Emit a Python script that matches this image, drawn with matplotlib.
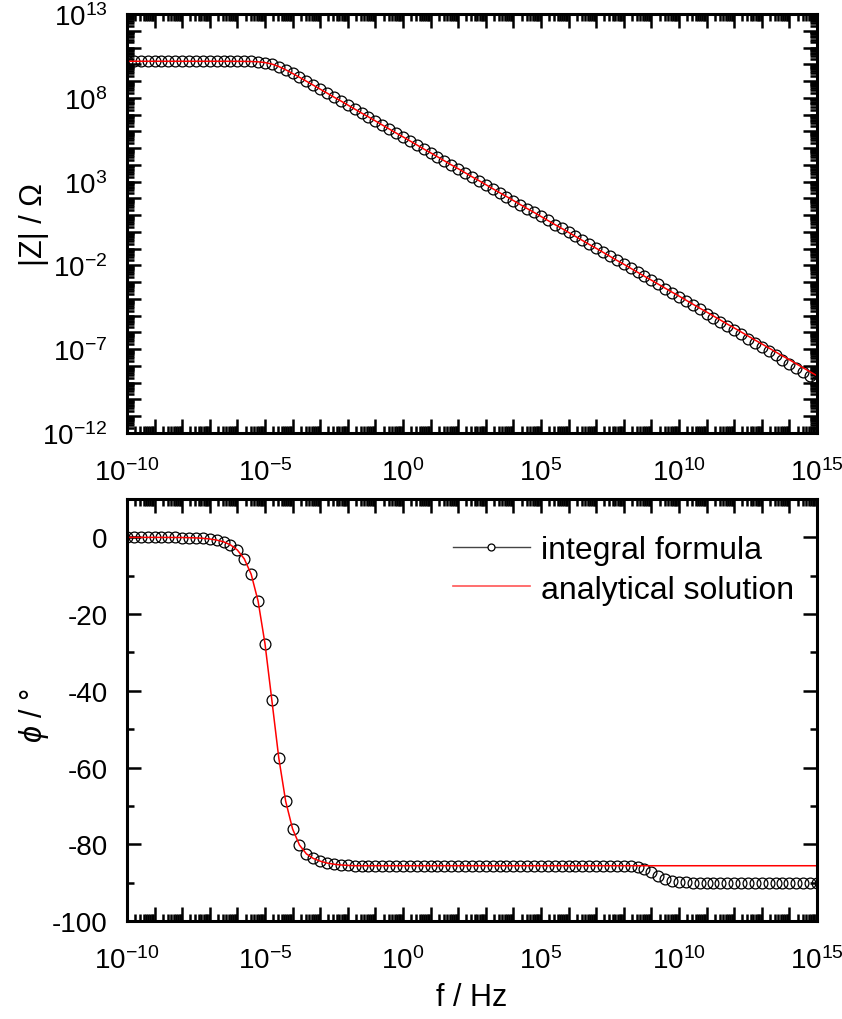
import matplotlib.pyplot as plt
import matplotlib.ticker as mticker
from matplotlib.lines import Line2D
import numpy as np

plt.rcParams['font.family'] = ['Liberation Sans', 'DejaVu Sans']
plt.rcParams['mathtext.fontset'] = 'custom'
plt.rcParams['mathtext.rm'] = 'Liberation Sans'
plt.rcParams['mathtext.it'] = 'Liberation Sans:italic'
plt.rcParams['axes.unicode_minus'] = False

# frequency exponents (log10 f / Hz), 4 points per decade
f_exp = [-10.0, -9.75, -9.5, -9.25, -9.0, -8.75, -8.5, -8.25, -8.0, -7.75,
         -7.5, -7.25, -7.0, -6.75, -6.5, -6.25, -6.0, -5.75, -5.5, -5.25,
         -5.0, -4.75, -4.5, -4.25, -4.0, -3.75, -3.5, -3.25, -3.0, -2.75,
         -2.5, -2.25, -2.0, -1.75, -1.5, -1.25, -1.0, -0.75, -0.5, -0.25,
         0.0, 0.25, 0.5, 0.75, 1.0, 1.25, 1.5, 1.75, 2.0, 2.25,
         2.5, 2.75, 3.0, 3.25, 3.5, 3.75, 4.0, 4.25, 4.5, 4.75,
         5.0, 5.25, 5.5, 5.75, 6.0, 6.25, 6.5, 6.75, 7.0, 7.25,
         7.5, 7.75, 8.0, 8.25, 8.5, 8.75, 9.0, 9.25, 9.5, 9.75,
         10.0, 10.25, 10.5, 10.75, 11.0, 11.25, 11.5, 11.75, 12.0, 12.25,
         12.5, 12.75, 13.0, 13.25, 13.5, 13.75, 14.0, 14.25, 14.5, 14.75,
         15.0]

# log10 |Z| / Ohm, analytical solution
logz_an = [10.18, 10.18, 10.18, 10.18, 10.18, 10.18, 10.18, 10.18, 10.18, 10.18,
           10.18, 10.18, 10.18, 10.18, 10.179, 10.178, 10.177, 10.173, 10.166, 10.147,
           10.103, 10.013, 9.865, 9.672, 9.453, 9.224, 8.99, 8.754, 8.516, 8.28,
           8.04, 7.81, 7.57, 7.33, 7.09, 6.86, 6.62, 6.38, 6.14, 5.90,
           5.67, 5.43, 5.19, 4.95, 4.72, 4.48, 4.24, 4.00, 3.77, 3.53,
           3.29, 3.06, 2.82, 2.58, 2.34, 2.11, 1.87, 1.63, 1.39, 1.16,
           0.92, 0.68, 0.44, 0.21, -0.03, -0.27, -0.51, -0.75, -0.98, -1.22,
           -1.46, -1.70, -1.93, -2.17, -2.41, -2.65, -2.88, -3.12, -3.36, -3.60,
           -3.83, -4.07, -4.31, -4.55, -4.78, -5.02, -5.26, -5.50, -5.73, -5.97,
           -6.21, -6.45, -6.68, -6.92, -7.16, -7.40, -7.63, -7.87, -8.11, -8.35,
           -8.58]

# log10 |Z| / Ohm, integral formula
logz_int = [10.18, 10.18, 10.18, 10.18, 10.18, 10.18, 10.18, 10.18, 10.18, 10.18,
            10.18, 10.18, 10.18, 10.18, 10.179, 10.178, 10.177, 10.173, 10.166, 10.147,
            10.103, 10.013, 9.865, 9.672, 9.453, 9.224, 8.99, 8.754, 8.516, 8.28,
            8.04, 7.81, 7.57, 7.33, 7.09, 6.86, 6.62, 6.38, 6.14, 5.90,
            5.67, 5.43, 5.19, 4.95, 4.72, 4.48, 4.24, 4.00, 3.77, 3.53,
            3.29, 3.06, 2.82, 2.58, 2.34, 2.11, 1.87, 1.63, 1.39, 1.16,
            0.92, 0.68, 0.44, 0.21, -0.03, -0.27, -0.51, -0.75, -0.98, -1.22,
            -1.46, -1.70, -1.93, -2.17, -2.41, -2.65, -2.89, -3.13, -3.38, -3.63,
            -3.87, -4.12, -4.37, -4.62, -4.87, -5.12, -5.37, -5.62, -5.87, -6.12,
            -6.37, -6.62, -6.87, -7.12, -7.37, -7.62, -7.87, -8.12, -8.37, -8.62,
            -8.87]

# phase / degree, analytical solution
phi_an = [-0.001, -0.001, -0.002, -0.003, -0.005, -0.009, -0.016, -0.027, -0.047, -0.08,
          -0.14, -0.24, -0.42, -0.70, -1.15, -1.95, -3.3, -5.6, -9.6, -16.6,
          -27.7, -42.5, -57.5, -68.8, -76.0, -80.2, -82.5, -83.7, -84.4, -84.9,
          -85.2, -85.4, -85.5, -85.6, -85.6, -85.6, -85.6, -85.6, -85.6, -85.6,
          -85.6, -85.6, -85.6, -85.6, -85.6, -85.6, -85.6, -85.6, -85.6, -85.6,
          -85.6, -85.6, -85.6, -85.6, -85.6, -85.6, -85.6, -85.6, -85.6, -85.6,
          -85.6, -85.6, -85.6, -85.6, -85.6, -85.6, -85.6, -85.6, -85.6, -85.6,
          -85.6, -85.6, -85.6, -85.6, -85.6, -85.6, -85.6, -85.6, -85.6, -85.6,
          -85.6, -85.6, -85.6, -85.6, -85.6, -85.6, -85.6, -85.6, -85.6, -85.6,
          -85.6, -85.6, -85.6, -85.6, -85.6, -85.6, -85.6, -85.6, -85.6, -85.6,
          -85.6]

# phase / degree, integral formula
phi_int = [-0.001, -0.001, -0.002, -0.003, -0.005, -0.009, -0.016, -0.027, -0.047, -0.08,
           -0.14, -0.24, -0.42, -0.70, -1.15, -1.95, -3.3, -5.6, -9.6, -16.6,
           -27.7, -42.5, -57.5, -68.8, -76.0, -80.2, -82.5, -83.7, -84.4, -84.9,
           -85.2, -85.4, -85.5, -85.6, -85.6, -85.6, -85.6, -85.6, -85.6, -85.6,
           -85.6, -85.6, -85.6, -85.6, -85.6, -85.6, -85.6, -85.6, -85.6, -85.6,
           -85.6, -85.6, -85.6, -85.6, -85.6, -85.6, -85.6, -85.6, -85.6, -85.6,
           -85.6, -85.6, -85.6, -85.6, -85.6, -85.6, -85.6, -85.6, -85.6, -85.6,
           -85.6, -85.6, -85.6, -85.65, -85.9, -86.5, -87.3, -88.4, -89.1, -89.6,
           -89.8, -89.9, -90.0, -90.0, -90.0, -90.0, -90.0, -90.0, -90.0, -90.0,
           -90.0, -90.0, -90.0, -90.0, -90.0, -90.0, -90.0, -90.0, -90.0, -90.0,
           -90.0]

f = 10.0 ** np.array(f_exp)
z_an = 10.0 ** np.array(logz_an)
z_int = 10.0 ** np.array(logz_int)

fig = plt.figure(figsize=(8.42, 10.2), dpi=100)
ax1 = fig.add_axes([0.1508, 0.5745, 0.8195, 0.4108])
ax2 = fig.add_axes([0.1508, 0.0961, 0.8195, 0.4137])

mk = dict(ls='none', marker='o', ms=7.8, mfc='none', mec='black', mew=0.9)
red = dict(color='red', lw=1.1)


def log_label(v, p, ref=0):
    e = int(round(np.log10(v)))
    return r'$\mathregular{10^{%d}}$' % e if (e - ref) % 5 == 0 else ''


def style_log_x(ax):
    ax.set_xscale('log')
    ax.set_xlim(1e-10, 1e15)
    ax.xaxis.set_major_locator(mticker.LogLocator(base=10, numticks=40))
    ax.xaxis.set_minor_locator(mticker.LogLocator(base=10, subs=np.arange(2, 10), numticks=40))
    ax.xaxis.set_major_formatter(mticker.FuncFormatter(log_label))
    ax.xaxis.set_minor_formatter(mticker.NullFormatter())


def frame(ax):
    for s in ax.spines.values():
        s.set_linewidth(2.2)
    ax.tick_params(which='both', direction='in', top=True, right=True, width=1.8, labelsize=20)
    ax.tick_params(which='major', length=10)
    ax.tick_params(which='minor', length=5)
    ax.tick_params(axis='y', which='major', pad=14)
    ax.tick_params(axis='x', which='major', pad=18)


# |Z| panel
ax1.plot(f, z_int, **mk)
ax1.plot(f, z_an, **red)
style_log_x(ax1)
ax1.set_yscale('log')
ax1.set_ylim(1e-12, 1e13)
ax1.yaxis.set_major_locator(mticker.LogLocator(base=10, numticks=40))
ax1.yaxis.set_minor_locator(mticker.LogLocator(base=10, subs=np.arange(2, 10), numticks=40))
ax1.yaxis.set_major_formatter(mticker.FuncFormatter(lambda v, p: log_label(v, p, 13)))
ax1.yaxis.set_minor_formatter(mticker.NullFormatter())
frame(ax1)
ax1.set_ylabel('|Z| / Ω', fontsize=22)
ax1.yaxis.set_label_coords(-0.113, 0.5)

# phase panel
ax2.plot(f, phi_int, **mk)
ax2.plot(f, phi_an, **red)
style_log_x(ax2)
ax2.set_ylim(-100, 10)
ax2.yaxis.set_major_locator(mticker.MultipleLocator(20))
ax2.yaxis.set_minor_locator(mticker.MultipleLocator(10))
frame(ax2)
ax2.set_ylabel(r'$\it{\phi}$ / °', fontsize=22)
ax2.yaxis.set_label_coords(-0.11, 0.49)
ax2.set_xlabel('f / Hz', fontsize=22, labelpad=6)

handles = [Line2D([], [], color='#444444', lw=1.0, marker='o', ms=5, mfc='white', mec='black', mew=0.9),
           Line2D([], [], color='#ff5555', lw=1.2)]
ax2.legend(handles, ['integral formula', 'analytical solution'], loc='upper right',
           frameon=False, fontsize=23, handlelength=2.4, handletextpad=0.35,
           labelspacing=0.3, borderaxespad=0.0, bbox_to_anchor=(0.985, 0.945))

fig.savefig('out.png', dpi=100)
